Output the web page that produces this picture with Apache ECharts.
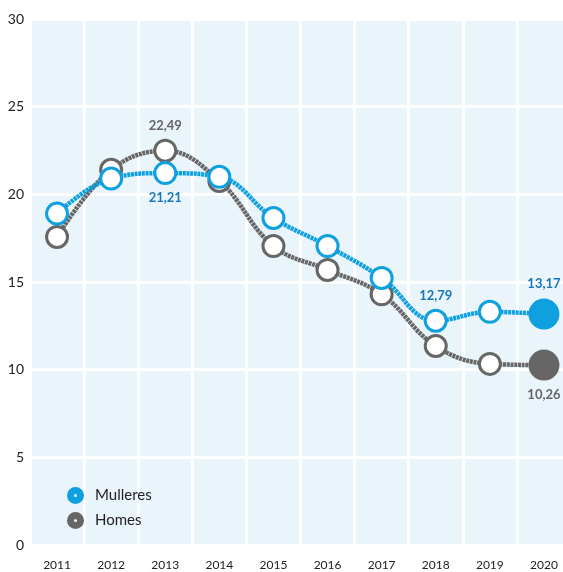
<!DOCTYPE html>
<html>
<head>
<meta charset="utf-8">
<script src="https://cdn.jsdelivr.net/npm/echarts@6/dist/echarts.min.js"></script>
<style>
    html, body { margin: 0; padding: 0; background: #fff; }
    #chart { width: 563px; height: 572px; }
</style>
</head>
<body>
<div id="chart"></div>
<script>
    // categorías e valores
    var years = ['2011', '2012', '2013', '2014', '2015', '2016', '2017', '2018', '2019', '2020'];
    var mulleres = [18.9, 20.9, 21.21, 21.0, 18.65, 17.05, 15.23, 12.79, 13.3, 13.17];
    var homes = [17.57, 21.4, 22.49, 20.76, 17.05, 15.69, 14.3, 11.35, 10.33, 10.26];
    var yTicks = [0, 5, 10, 15, 20, 25, 30];
    // puntos con etiqueta
    var mullLabels = { 2: 'bottom', 7: 'top', 9: 'top' };
    var homesLabels = { 2: 'top', 9: 'bottom' };

    var blue = '#0fa0e0';
    var gray = '#666666';
    var ringIcon = 'path://M10,0 A10,10 0 1,1 10,20 A10,10 0 1,1 10,0 Z M10,8.2 A1.8,1.8 0 1,0 10,11.8 A1.8,1.8 0 1,0 10,8.2 Z';

    function fmt(v) {
        return v.toFixed(2).replace('.', ',');
    }

    function buildData(values, labels, color, labelColor) {
        return values.map(function (v, i) {
            var item = { value: v };
            var last = i === values.length - 1;
            if (last) {
                item.symbolSize = 28;
                item.itemStyle = { color: color, borderColor: color };
            }
            if (labels[i] !== undefined) {
                item.label = {
                    show: true,
                    position: labels[i],
                    distance: last ? 8 : 6,
                    formatter: function (p) { return fmt(p.value); },
                    color: labelColor,
                    fontWeight: 'bold',
                    fontSize: 13,
                    fontFamily: 'Lato'
                };
            }
            return item;
        });
    }

    var myChart = echarts.init(document.getElementById('chart'));
    var options = {
        animation: false,
        textStyle: { fontFamily: 'Lato' },
        grid: {
            left: 30,
            top: 19,
            width: 541,
            height: 526,
            outerBoundsMode: 'none',
            containLabel: false,
            show: true,
            backgroundColor: '#e9f4fb',
            borderWidth: 0
        },
        legend: {
            orient: 'vertical',
            left: 62,
            top: 482,
            itemWidth: 17,
            itemHeight: 17,
            itemGap: 8,
            textStyle: { fontSize: 15, color: '#222', fontFamily: 'Lato', padding: [0, 0, 0, 6] },
            data: [
                { name: 'Mulleres', icon: ringIcon, itemStyle: { color: blue, borderWidth: 0 } },
                { name: 'Homes', icon: ringIcon, itemStyle: { color: gray, borderWidth: 0 } }
            ]
        },
        xAxis: {
            type: 'category',
            data: years,
            boundaryGap: true,
            axisLine: { show: false },
            axisTick: { show: false },
            axisLabel: { color: '#222', fontSize: 12, margin: 14 },
            splitLine: { show: true, lineStyle: { color: '#ffffff', width: 3 } }
        },
        yAxis: {
            type: 'value',
            min: yTicks[0],
            max: yTicks[yTicks.length - 1],
            interval: 5,
            axisLine: { show: false },
            axisTick: { show: false },
            axisLabel: { color: '#222', fontSize: 14, margin: 6 },
            splitLine: { show: true, lineStyle: { color: '#ffffff', width: 3 } }
        },
        series: [
            {
                name: 'Homes',
                type: 'line',
                smooth: 0.4,
                z: 2,
                symbol: 'circle',
                symbolSize: 21,
                lineStyle: { color: gray, width: 4.5, type: [3, 0.7] },
                itemStyle: { color: '#ffffff', borderColor: gray, borderWidth: 3 },
                data: buildData(homes, homesLabels, gray, '#666666')
            },
            {
                name: 'Mulleres',
                type: 'line',
                smooth: 0.4,
                z: 3,
                symbol: 'circle',
                symbolSize: 21,
                lineStyle: { color: blue, width: 4.5, type: [3, 0.7] },
                itemStyle: { color: '#ffffff', borderColor: blue, borderWidth: 3 },
                data: buildData(mulleres, mullLabels, blue, '#1577bd')
            }
        ]
    };
    myChart.setOption(options);
</script>
</body>
</html>
